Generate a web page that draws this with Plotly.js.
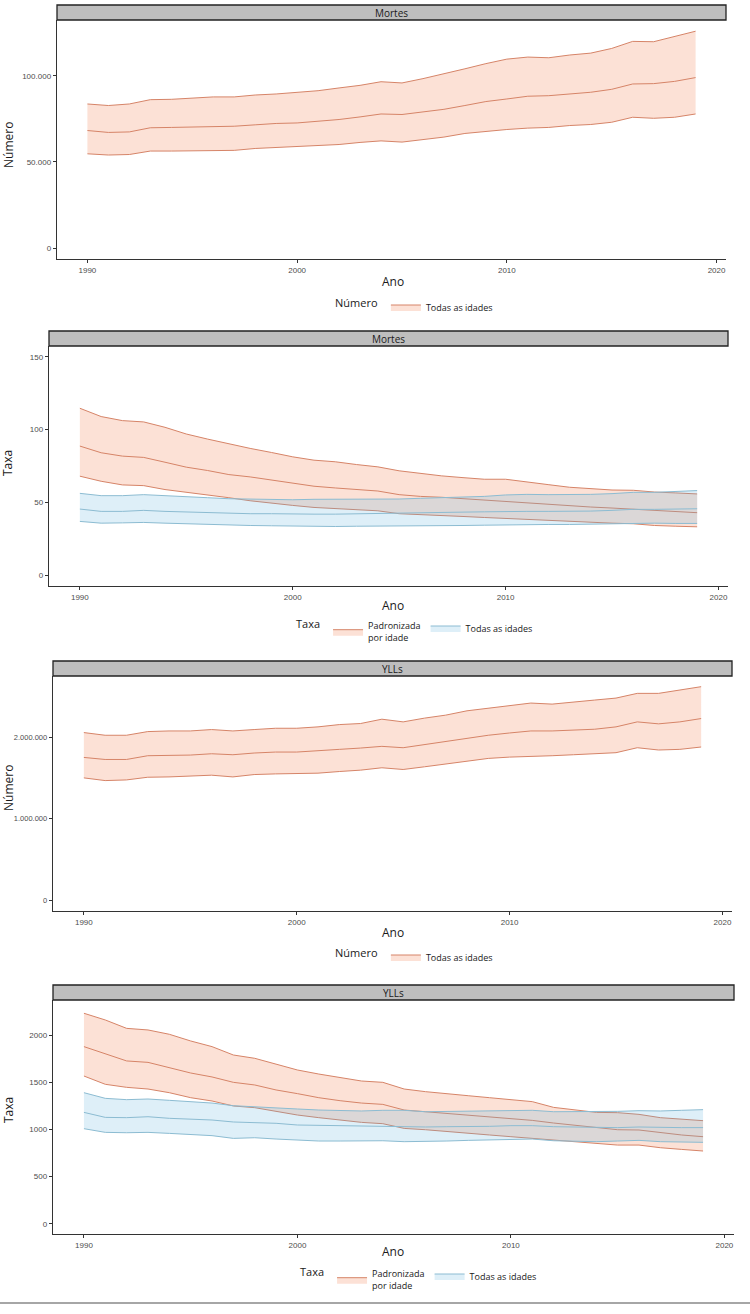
<!DOCTYPE html>
<html>
<head>
<meta charset="utf-8">
<script src="https://cdn.plot.ly/plotly-3.0.1.min.js"></script>
<style>html,body{margin:0;padding:0;background:#fff;}#chart{width:750px;height:1314px;}</style>
</head>
<body>
<div id="chart"></div>
<script>
// ---------- DATA ----------
const years = [1990,1991,1992,1993,1994,1995,1996,1997,1998,1999,2000,2001,2002,2003,2004,2005,2006,2007,2008,2009,2010,2011,2012,2013,2014,2015,2016,2017,2018,2019];

const stripLabels = ["Mortes", "Mortes", "YLLs", "YLLs"];
const yTitles = ["Número", "Taxa", "Número", "Taxa"];
const xTitle = "Ano";
const legendTitles = ["Número", "Taxa", "Número", "Taxa"];
const nameAllAges = "Todas as idades";
const nameAgeStd = "Padronizada<br>por idade";

// Panel 1: Mortes, número, todas as idades
const mortesNumUpper = [83600,82700,83600,86100,86300,86900,87700,87700,88800,89400,90200,91300,92900,94400,96500,95800,98300,101000,104000,107000,109600,110800,110400,112000,113100,115800,119900,119700,122700,125800];
const mortesNumMean  = [68200,67100,67400,69800,70000,70300,70700,70700,71500,72300,72600,73400,74600,76100,77800,77500,78800,80500,82700,85000,86500,88100,88400,89400,90400,92100,95200,95400,96700,98900];
const mortesNumLower = [54700,54000,54300,56300,56300,56500,56500,56700,57800,58400,58800,59200,60100,61300,62200,61500,63000,64400,66500,67800,68800,69600,70000,71100,71700,73000,75900,75300,75900,77800];

// Panel 2: Mortes, taxa
const mortesStdUpper = [114.7,109.0,106.2,105.3,101.6,97.0,93.5,90.1,87.1,84.3,81.3,79.0,77.9,76.0,74.4,71.7,69.8,68.2,67.0,65.9,65.9,64.3,62.2,60.4,59.2,58.5,58.3,57.1,56.5,55.8];
const mortesStdMean  = [88.7,84.1,81.8,80.9,77.6,74.2,71.9,69.1,67.5,65.2,62.9,61.1,59.9,58.8,57.8,55.3,54.1,53.5,52.5,51.4,50.7,49.8,48.6,47.7,46.8,46.1,45.4,44.2,43.5,42.9];
const mortesStdLower = [68.0,64.5,62.0,61.5,58.8,56.9,55.5,53.2,51.1,49.3,47.9,46.5,45.6,44.9,44.2,42.2,41.7,41.0,40.3,39.6,38.9,38.0,37.3,36.6,36.2,35.7,35.3,34.1,33.6,33.2];
const mortesAllUpper = [56.2,54.6,54.6,55.3,54.6,53.7,53.2,52.5,52.1,52.1,51.8,52.1,52.1,52.1,52.3,52.3,52.8,53.2,53.5,54.1,55.1,55.5,55.3,55.3,55.5,56.0,56.9,56.9,57.4,58.1];
const mortesAllMean  = [45.4,43.8,43.8,44.5,43.8,43.3,43.3,42.6,42.2,42.2,41.9,41.9,41.9,42.2,42.2,42.6,42.6,42.9,43.3,43.5,43.8,43.8,43.8,43.8,44.0,44.5,45.2,45.2,45.4,45.6];
const mortesAllLower = [36.9,35.7,35.9,36.2,35.7,35.3,34.6,34.1,34.1,33.9,33.6,33.4,33.4,33.6,33.6,33.6,33.6,33.9,34.1,34.3,34.6,34.8,34.8,34.8,35.0,35.3,35.9,35.7,35.5,35.5];

// Panel 3: YLLs, número
const yllNumUpper = [2058000,2025000,2025000,2070000,2078000,2078000,2095000,2078000,2095000,2111000,2111000,2128000,2156000,2169000,2222000,2189000,2235000,2272000,2325000,2358000,2395000,2420000,2407000,2436000,2457000,2481000,2539000,2539000,2580000,2621000];
const yllNumMean  = [1753000,1728000,1728000,1774000,1778000,1782000,1798000,1786000,1807000,1819000,1819000,1831000,1852000,1868000,1889000,1872000,1909000,1951000,1992000,2025000,2053000,2078000,2078000,2091000,2099000,2128000,2189000,2165000,2189000,2230000];
const yllNumLower = [1502000,1469000,1477000,1510000,1514000,1523000,1535000,1514000,1543000,1551000,1556000,1560000,1580000,1597000,1626000,1605000,1638000,1671000,1708000,1741000,1757000,1770000,1774000,1786000,1798000,1811000,1872000,1844000,1852000,1881000];

// Panel 4: YLLs, taxa
const yllStdUpper = [2234,2163,2074,2057,2011,1940,1880,1791,1756,1692,1632,1589,1551,1515,1501,1430,1402,1384,1359,1338,1320,1296,1235,1207,1182,1179,1161,1126,1112,1094];
const yllStdMean  = [1880,1802,1728,1713,1657,1600,1558,1501,1473,1420,1381,1338,1306,1281,1267,1207,1189,1172,1154,1136,1119,1097,1069,1044,1016,998,995,966,942,924];
const yllStdLower = [1568,1480,1448,1430,1391,1338,1303,1250,1232,1189,1154,1126,1097,1076,1062,1012,998,977,959,942,924,906,889,871,850,835,835,807,789,772];
const yllAllUpper = [1391,1331,1317,1324,1310,1292,1281,1253,1239,1225,1218,1207,1200,1197,1204,1204,1189,1193,1197,1197,1204,1204,1189,1189,1189,1193,1200,1197,1204,1211];
const yllAllMean  = [1182,1129,1126,1136,1119,1108,1101,1080,1076,1066,1048,1044,1037,1034,1034,1027,1027,1030,1030,1034,1041,1041,1030,1027,1020,1020,1027,1020,1020,1020];
const yllAllLower = [1009,970,966,970,959,949,935,906,913,899,889,878,878,878,881,871,871,878,885,892,899,899,881,878,871,878,885,871,864,864];

// ---------- STYLE / LAYOUT ----------
const W = 750, H = 1314;
const px = x => x / W;
const py = y => 1 - y / H;

const orangeLine = 'rgb(214,132,104)';
const orangeFill = 'rgba(240,105,50,0.2)';
const blueLine = 'rgb(140,188,210)';
const blueFill = 'rgba(90,175,220,0.2)';

const tickFont = {family: 'Liberation Sans, Arial, sans-serif', size: 8, color: '#4d4d4d'};
const titleFont = {family: 'Open Sans, Lato, sans-serif', size: 12, color: '#1a1a1a'};
const legFont = {family: 'Open Sans, Lato, sans-serif', size: 9, color: '#1a1a1a'};

// geometry in pixels: plot box, strip, titles, legend
const geo = [
  {x0:57, x1:726, y0:20,   y1:259,  s0:5,   xr:[1988.55,2020.45], yr:[-6300,132300],   dt:50000,   fmt:',d', yt:145,  at:281,  lx:333, ly:307, tf:8},
  {x0:49, x1:728, y0:346,  y1:586,  s0:331, xr:[1988.55,2020.45], yr:[-7.5,157.5],     dt:50,      fmt:'d',  yt:463,  at:605,  lx:294, ly:632, tf:8},
  {x0:53, x1:732, y0:676,  y1:911,  s0:661, xr:[1988.55,2020.45], yr:[-131000,2752000],dt:1000000, fmt:',d', yt:788,  at:932,  lx:333, ly:957, tf:7.5},
  {x0:53, x1:734, y0:1000, y1:1234, s0:985, xr:[1988.55,2020.45], yr:[-109,2375],      dt:500,     fmt:'d',  yt:1110, at:1251, lx:298, ly:1280, tf:8}
];

function band(lower, mean, upper, idx, name, lineC, fillC, legendId) {
  const ax = idx === 0 ? '' : String(idx + 1);
  const common = {x: years, xaxis: 'x' + ax, yaxis: 'y' + ax, mode: 'lines', legend: legendId, hoverinfo: 'skip'};
  return [
    Object.assign({}, common, {y: lower, line: {color: lineC, width: 1}, showlegend: false, name: name}),
    Object.assign({}, common, {y: upper, line: {color: lineC, width: 1}, fill: 'tonexty', fillcolor: fillC, showlegend: true, name: name}),
    Object.assign({}, common, {y: mean, line: {color: lineC, width: 1}, showlegend: false, name: name})
  ];
}

const traces = [].concat(
  band(mortesNumLower, mortesNumMean, mortesNumUpper, 0, nameAllAges, orangeLine, orangeFill, 'legend'),
  band(mortesStdLower, mortesStdMean, mortesStdUpper, 1, nameAgeStd, orangeLine, orangeFill, 'legend2'),
  band(mortesAllLower, mortesAllMean, mortesAllUpper, 1, nameAllAges, blueLine, blueFill, 'legend2'),
  band(yllNumLower, yllNumMean, yllNumUpper, 2, nameAllAges, orangeLine, orangeFill, 'legend3'),
  band(yllStdLower, yllStdMean, yllStdUpper, 3, nameAgeStd, orangeLine, orangeFill, 'legend4'),
  band(yllAllLower, yllAllMean, yllAllUpper, 3, nameAllAges, blueLine, blueFill, 'legend4')
);

const layout = {
  width: W, height: H,
  margin: {l: 0, r: 0, t: 0, b: 0},
  paper_bgcolor: '#fff', plot_bgcolor: '#fff',
  separators: ',.',
  shapes: [], annotations: []
};

geo.forEach((g, i) => {
  const ax = i === 0 ? '' : String(i + 1);
  layout['xaxis' + ax] = {
    domain: [px(g.x0), px(g.x1)], range: g.xr, anchor: 'y' + ax,
    tick0: 1990, dtick: 10, ticks: 'outside', ticklen: 3, tickcolor: '#333', tickwidth: 1,
    showline: true, linecolor: '#333', linewidth: 1.3, showgrid: false, zeroline: false,
    tickfont: tickFont, fixedrange: true
  };
  layout['yaxis' + ax] = {
    domain: [py(g.y1), py(g.y0)], range: g.yr, anchor: 'x' + ax,
    tick0: 0, dtick: g.dt, tickformat: g.fmt, ticks: 'outside', ticklen: 3, tickcolor: '#333', tickwidth: 1,
    showline: true, linecolor: '#333', linewidth: 1.3, showgrid: false, zeroline: false,
    tickfont: Object.assign({}, tickFont, {size: g.tf}), fixedrange: true
  };
  // strip
  layout.shapes.push({type: 'rect', xref: 'paper', yref: 'paper', x0: px(g.x0), x1: px(g.x1), y0: py(g.y0), y1: py(g.s0),
    fillcolor: '#bebebe', line: {color: '#222', width: 1.3}, layer: 'above'});
  layout.annotations.push({xref: 'paper', yref: 'paper', x: px((g.x0 + g.x1) / 2), y: py((g.s0 + g.y0) / 2),
    text: stripLabels[i], showarrow: false, font: {family: 'Open Sans, Lato, sans-serif', size: 10, color: '#1a1a1a'},
    xanchor: 'center', yanchor: 'middle'});
  // axis titles
  layout.annotations.push({xref: 'paper', yref: 'paper', x: px(393), y: py(g.at), text: xTitle, showarrow: false,
    font: titleFont, xanchor: 'center', yanchor: 'middle'});
  layout.annotations.push({xref: 'paper', yref: 'paper', x: px(8), y: py(g.yt), text: yTitles[i], showarrow: false,
    font: titleFont, textangle: -90, xanchor: 'center', yanchor: 'middle'});
  // legend
  const lid = i === 0 ? 'legend' : 'legend' + (i + 1);
  layout[lid] = {
    orientation: 'h', x: px(g.lx), y: py(g.ly), xanchor: 'left', yanchor: 'middle',
    bgcolor: 'rgba(0,0,0,0)', borderwidth: 0, font: legFont,
    title: {text: legendTitles[i], side: 'left', font: {family: 'Open Sans, Lato, sans-serif', size: 11, color: '#1a1a1a'}},
    itemwidth: 30, traceorder: 'normal', tracegroupgap: 0, itemclick: false, itemdoubleclick: false
  };
});

// bottom separator line
layout.shapes.push({type: 'line', xref: 'paper', yref: 'paper', x0: 0, x1: 1, y0: py(1303), y1: py(1303),
  line: {color: '#888', width: 1.5}});

Plotly.newPlot('chart', traces, layout, {staticPlot: true, displayModeBar: false});
</script>
</body>
</html>
